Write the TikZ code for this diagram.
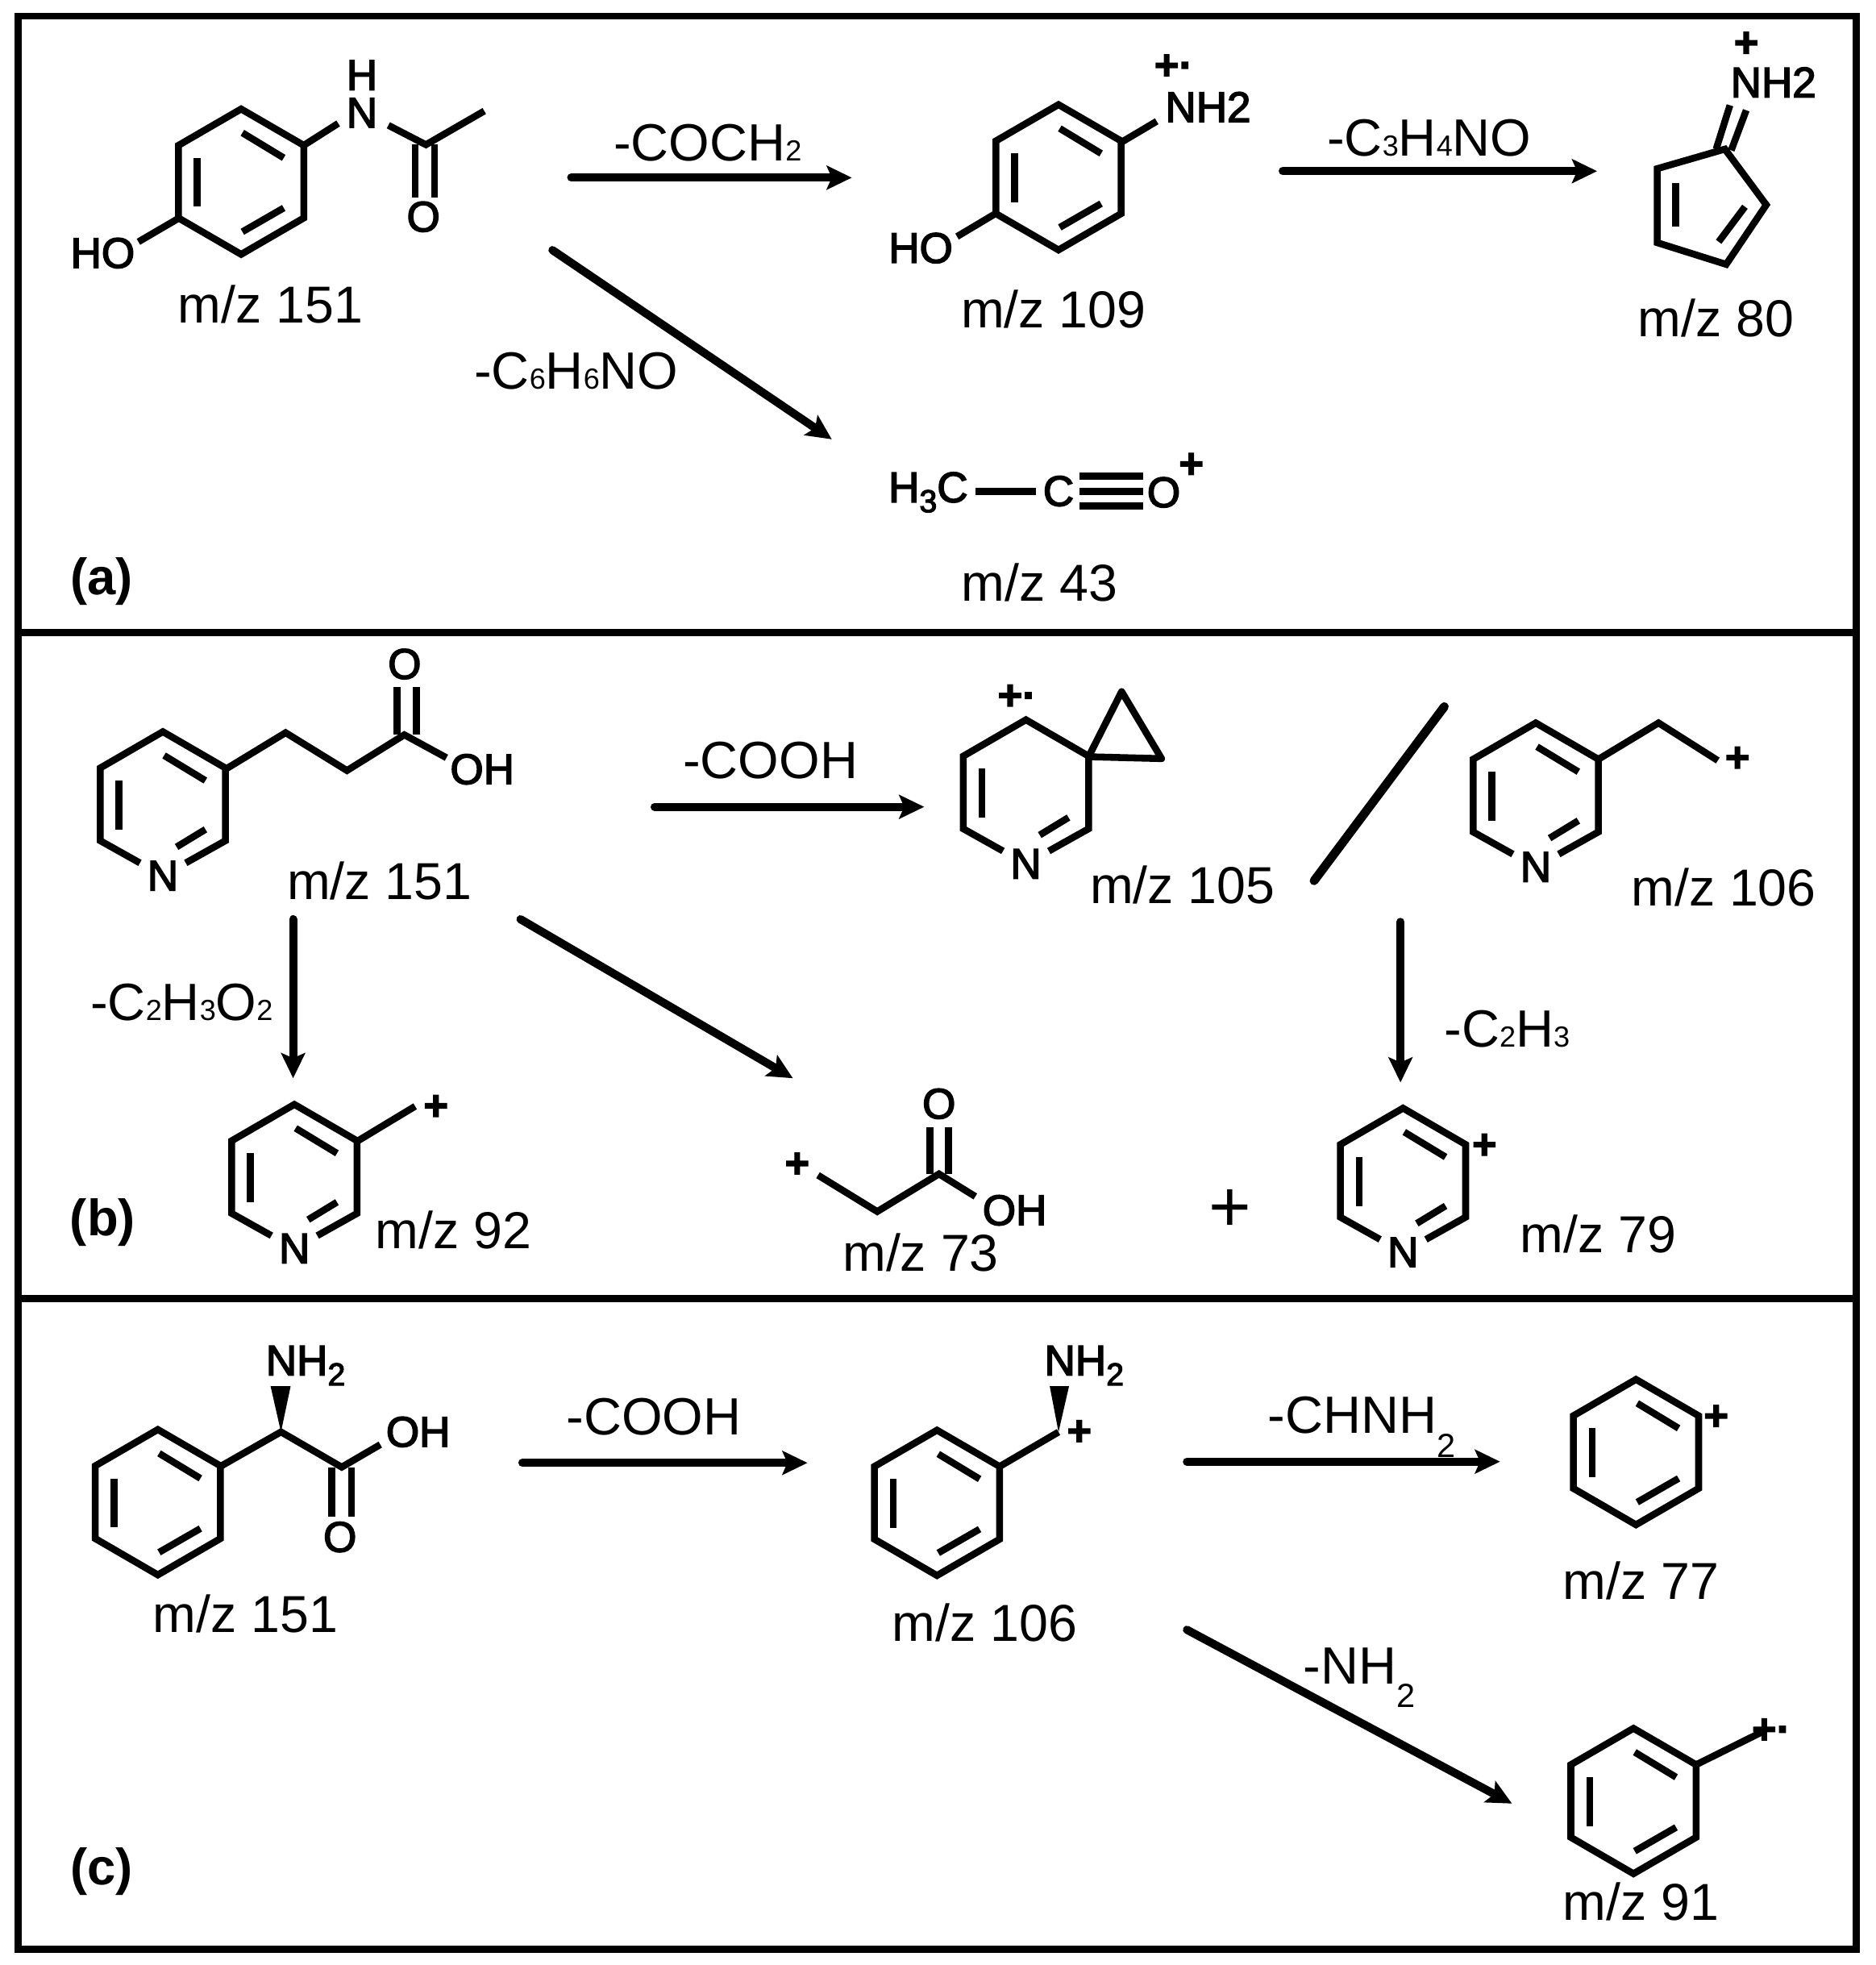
\documentclass[tikz,border=0pt]{standalone}
\usepackage{fontspec}
\setmainfont{Liberation Sans}
\newfontfamily\atomfam{Liberation Sans}[FakeBold=3]
\newfontfamily\chgfam{Liberation Sans}[UprightFont={* Bold},FakeBold=2.5]
\usetikzlibrary{arrows.meta}

% small digit on the baseline, as in the loss labels
\newcommand{\lossdig}[1]{{\fontsize{6.6}{7}\selectfont #1}}
% dropped digit, for NH2 and H3C
\newcommand{\atomdig}[1]{\raisebox{-0.8mm}{\fontsize{7.2}{8}\selectfont #1}}
% large dropped digit after -CHNH and -NH
\newcommand{\dropdig}[1]{\raisebox{-1.9mm}{\fontsize{7.6}{8}\selectfont #1}}

\tikzset{
  panel/.style={line width=0.055cm},
  bond/.style={line width=0.055cm},
  mz/.style={inner sep=0pt,font=\fontsize{11.8}{14}\selectfont},
  loss/.style={inner sep=0pt,font=\fontsize{11.9}{14}\selectfont},
  atom/.style={inner sep=1.5pt,font=\atomfam\fontsize{9.7}{11}\selectfont},
  chg/.style={inner sep=0pt,font=\chgfam\fontsize{9.6}{11}\selectfont},
  tag/.style={inner sep=0pt,font=\bfseries\fontsize{11.6}{14}\selectfont},
  rxn/.style={line width=0.065cm,line cap=round,
    -{Stealth[length=0.2cm,width=0.19cm,inset=0.04cm]}},
  benzene/.pic={
    \draw[bond] (0,-58) -- (50,-29) -- (50,29) -- (0,58) -- (-50,29) -- (-50,-29) -- cycle;
    \draw[bond] (1,-39) -- (34,-19);
    \draw[bond] (-35,-19) -- (-35,20);
    \draw[bond] (34,21) -- (1,40);
  },
  pyridine/.pic={
    \node[atom] (N) at (0,57) {N};
    \draw[bond] (N) -- (-50,29) -- (-50,-29) -- (0,-58) -- (50,-29) -- (50,29) -- (N);
    \draw[bond] (-35,-19) -- (-35,20);
    \draw[bond] (34,20) -- (11,34);
  },
  topbond/.pic={\draw[bond] (1,-39) -- (34,-19);}
}

\begin{document}
\begin{tikzpicture}[x=0.01cm,y=-0.01cm]
  \useasboundingbox (0,0) rectangle (1497,1568.4);

  % the three panels
  \draw[panel] (14.5,13) rectangle (1482,505);
  \draw[panel] (14.5,505) rectangle (1482,1036.5);
  \draw[panel] (14.5,1036.5) rectangle (1482,1556);
  \node[tag] (tagA) at (81,464) {(a)};
  \node[tag] (tagB) at (82,976) {(b)};
  \node[tag] (tagC) at (81,1494) {(c)};

  % ---- panel a ----
  \pic at (192.5,145) {benzene};
  \node[atom] (a1HO) at (82,202) {HO};
  \node[atom] (a1N) at (289,90) {N};
  \node[atom] (a1H) at (289,60) {H};
  \node[atom] (a1O) at (338,173) {O};
  \draw[bond] (143,174) -- (110.5,193);
  \draw[bond] (242.5,116) -- (270,98.5);
  \draw[bond] (310,100) -- (340,115.5) -- (386.6,88.6);
  \draw[bond] (331.4,115.5) -- (331.4,157.6);
  \draw[bond] (346.8,115.5) -- (346.8,157.6);
  \node[mz] (a1mz) at (216,243) {m/z 151};

  \coordinate (a1s) at (456,141.8);
  \coordinate (a1e) at (680,141.8);
  \draw[rxn] (a1s) -- (a1e);
  \node[loss] (a1l) at (565,114) {-COCH\lossdig{2}};
  \coordinate (a2s) at (441,199.6);
  \coordinate (a2e) at (664,350.6);
  \draw[rxn] (a2s) -- (a2e);
  \node[loss] (a2l) at (460,296) {-C\lossdig{6}H\lossdig{6}NO};

  \pic at (845,141.5) {benzene};
  \node[atom] (a2HO) at (735,198) {HO};
  \node[atom] (a2NH) at (964.4,85.4) {NH2};
  \node[chg] (a2c) at (937,53.5) {+·};
  \draw[bond] (795.5,170) -- (764,188.8);
  \draw[bond] (894.4,114) -- (923.4,96.8);
  \node[mz] (a2mz) at (841,247) {m/z 109};

  \coordinate (a3s) at (1024,136.6);
  \coordinate (a3e) at (1275,136.6);
  \draw[rxn] (a3s) -- (a3e);
  \node[loss] (a3l) at (1141,110) {-C\lossdig{3}H\lossdig{4}NO};

  \draw[bond] (1377,119) -- (1410,163.5) -- (1378,211) -- (1323,193.7) -- (1323,134.6) -- cycle;
  \draw[bond] (1337.5,146) -- (1337.5,181);
  \draw[bond] (1393,165) -- (1372,193);
  \draw[bond] (1370,119) -- (1381,84);
  \draw[bond] (1382,120) -- (1394,88);
  \node[atom] (a3NH) at (1415.7,65.7) {NH2};
  \node[chg] (a3c) at (1394,35.5) {+};
  \node[mz] (a3mz) at (1370,254) {m/z 80};

  \node[atom] (a4H) at (741,393) {H\atomdig{3}C};
  \node[atom] (a4C) at (845,392) {C};
  \node[atom] (a4O) at (929,393) {O};
  \node[chg] (a4c) at (951,371.6) {+};
  \draw[bond] (778.6,392.3) -- (827,392.3);
  \draw[bond] (861.6,380) -- (912.8,380);
  \draw[bond] (861.6,392.3) -- (912.8,392.3);
  \draw[bond] (861.6,404) -- (912.8,404);
  \node[mz] (a4mz) at (830,465) {m/z 43};

  % ---- panel b ----
  \pic at (130,642) {pyridine};
  \pic at (130,642) {topbond};
  \node[atom] (b1OH) at (385,614) {OH};
  \node[atom] (b1O) at (323,530) {O};
  \draw[bond] (180,614) -- (228,584.8) -- (277,615) -- (322.8,586.5) -- (356.4,604.8);
  \draw[bond] (317,586.5) -- (317,548.6);
  \draw[bond] (332.4,586.5) -- (332.4,548.6);
  \node[mz] (b1mz) at (303,703) {m/z 151};

  \coordinate (b1s) at (522.6,644);
  \coordinate (b1e) at (737.8,644);
  \draw[rxn] (b1s) -- (b1e);
  \node[loss] (b1l) at (615,607) {-COOH};
  \coordinate (b2s) at (234,733.7);
  \coordinate (b2e) at (234,860.6);
  \draw[rxn] (b2s) -- (b2e);
  \node[loss] (b2l) at (145,800) {-C\lossdig{2}H\lossdig{3}O\lossdig{2}};
  \coordinate (b3s) at (415.5,733.7);
  \coordinate (b3e) at (633,860.6);
  \draw[rxn] (b3s) -- (b3e);

  % spiro ring, m/z 105
  \pic at (819,632.5) {pyridine};
  \draw[bond,line join=round] (869,604) -- (895.4,552) -- (927.3,605.5) -- cycle;
  \node[chg] (b2c) at (812,556.5) {+·};
  \node[mz] (b2mz) at (944,706) {m/z 105};
  \coordinate (bsls) at (1049,703);
  \coordinate (bsle) at (1153,564);
  \draw[line width=0.07cm,line cap=round] (bsls) -- (bsle);

  \pic at (1226,635) {pyridine};
  \pic at (1226,635) {topbond};
  \draw[bond] (1276,606) -- (1324,577) -- (1371.3,607);
  \node[chg] (b3c) at (1387,606) {+};
  \node[mz] (b3mz) at (1376,708) {m/z 106};

  \coordinate (b4s) at (1118,735.8);
  \coordinate (b4e) at (1118,864);
  \draw[rxn] (b4s) -- (b4e);
  \node[loss] (b4l) at (1203,821) {-C\lossdig{2}H\lossdig{3}};

  \pic at (235,939.5) {pyridine};
  \pic at (235,939.5) {topbond};
  \draw[bond] (285,911) -- (331.4,883);
  \node[chg] (b5c) at (348,884) {+};
  \node[mz] (b5mz) at (362,982) {m/z 92};

  \node[chg] (b6c) at (636.4,930) {+};
  \node[atom] (b6O) at (749.6,881) {O};
  \node[atom] (b6OH) at (810,966) {OH};
  \draw[bond] (653,938) -- (700.3,967) -- (749.6,937) -- (778.6,955);
  \draw[bond] (742.4,937) -- (742.4,900);
  \draw[bond] (757,937) -- (757,900);
  \node[mz] (b6mz) at (735,1000) {m/z 73};
  \node[inner sep=0pt,font=\fontsize{16.5}{18}\selectfont] (bplus) at (982,966) {+};

  \pic at (1120,942.5) {pyridine};
  \pic at (1120,942.5) {topbond};
  \node[chg] (b7c) at (1185,915) {+};
  \node[mz] (b7mz) at (1276,985) {m/z 79};

  % ---- panel c ----
  \pic at (126,1199) {benzene};
  \node[atom] (c1NH) at (244,1090) {NH\atomdig{2}};
  \node[atom] (c1OH) at (333.8,1142.9) {OH};
  \node[atom] (c1O) at (271.4,1226.8) {O};
  \fill (224.3,1143) -- (216,1106.4) -- (232,1106.4) -- cycle;
  \draw[bond] (176,1170.4) -- (224.3,1142.9) -- (272.8,1171) -- (303.6,1153);
  \draw[bond] (265,1171) -- (265,1210.7);
  \draw[bond] (280.5,1171) -- (280.5,1210.7);
  \node[mz] (c1mz) at (196,1288) {m/z 151};

  \coordinate (c1s) at (417,1167.6);
  \coordinate (c1e) at (644.6,1167.6);
  \draw[rxn] (c1s) -- (c1e);
  \node[loss] (c1l) at (522,1131) {-COOH};

  \pic at (748,1199.5) {benzene};
  \node[atom] (c2NH) at (865.5,1090) {NH\atomdig{2}};
  \fill (845,1143) -- (838,1106.4) -- (853.4,1106.4) -- cycle;
  \draw[bond] (798,1170.5) -- (845,1143);
  \node[chg] (c2c) at (861.6,1143.6) {+};
  \node[mz] (c2mz) at (786,1295) {m/z 106};

  \coordinate (c2s) at (947.5,1166.6);
  \coordinate (c2e) at (1197.5,1166.6);
  \draw[rxn] (c2s) -- (c2e);
  \node[loss] (c2l) at (1087,1139) {-CHNH\dropdig{2}};
  \coordinate (c3s) at (947.5,1300.8);
  \coordinate (c3e) at (1207,1439.5);
  \draw[rxn] (c3s) -- (c3e);
  \node[loss] (c3l) at (1085,1339) {-NH\dropdig{2}};

  \pic at (1306,1159) {benzene};
  \node[chg] (c4c) at (1370,1131.5) {+};
  \node[mz] (c4mz) at (1310,1262) {m/z 77};

  \pic at (1304,1437.5) {benzene};
  \draw[bond] (1354,1408.5) -- (1406,1382.7);
  \node[chg] (c5c) at (1414,1381.7) {+·};
  \node[mz] (c5mz) at (1310,1518) {m/z 91};
\end{tikzpicture}
\end{document}
